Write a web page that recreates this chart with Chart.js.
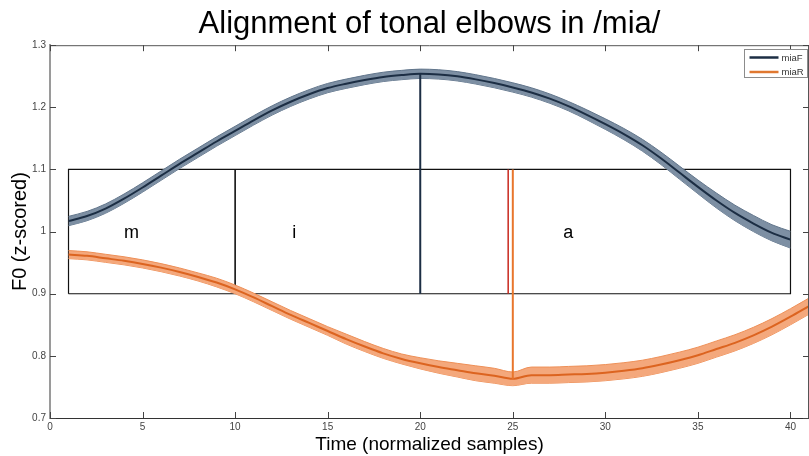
<!DOCTYPE html>
<html>
<head>
<meta charset="utf-8">
<script src="https://cdn.jsdelivr.net/npm/chart.js@4.4.0/dist/chart.umd.min.js"></script>
<style>
  html, body { margin: 0; padding: 0; background: #fff; }
  canvas { display: block; }
</style>
</head>
<body>
<canvas id="chart" width="809" height="456"></canvas>
<script>
// mean F0 curves (z-scored), one value per normalized sample starting at 1
const miaF = [
  1.017, 1.025, 1.037, 1.053, 1.071, 1.090, 1.109, 1.127, 1.145, 1.162,
  1.179, 1.195, 1.209, 1.221, 1.231, 1.238, 1.244, 1.249, 1.252, 1.254,
  1.253, 1.250, 1.245, 1.239, 1.232, 1.224, 1.214, 1.202, 1.188, 1.173,
  1.157, 1.139, 1.118, 1.095, 1.072, 1.050, 1.030, 1.013, 0.998, 0.987,
];
const miaFErr = [
  0.0075, 0.0075, 0.0075, 0.0075, 0.0075, 0.0075, 0.0075, 0.0075, 0.0075, 0.0075,
  0.0075, 0.0075, 0.0075, 0.0075, 0.0075, 0.0075, 0.0075, 0.0075, 0.0075, 0.0075,
  0.0075, 0.0075, 0.0075, 0.0075, 0.0075, 0.0075, 0.0075, 0.0075, 0.008, 0.0085,
  0.009, 0.0095, 0.010, 0.0105, 0.011, 0.012, 0.0125, 0.013, 0.013, 0.0135,
];
const miaR = [
  0.963, 0.961, 0.957, 0.953, 0.948, 0.942, 0.935, 0.927, 0.918, 0.907,
  0.894, 0.880, 0.866, 0.853, 0.840, 0.827, 0.815, 0.804, 0.795, 0.788,
  0.782, 0.777, 0.772, 0.768, 0.763, 0.769, 0.769, 0.770, 0.771, 0.773,
  0.776, 0.780, 0.786, 0.793, 0.801, 0.811, 0.821, 0.833, 0.847, 0.863,
  0.880,
];
const miaRErr = [
  0.0065, 0.0065, 0.0065, 0.0065, 0.0065, 0.0065, 0.0065, 0.0065, 0.007, 0.007,
  0.007, 0.007, 0.007, 0.007, 0.007, 0.008, 0.008, 0.008, 0.008, 0.009,
  0.010, 0.011, 0.012, 0.012, 0.011, 0.013, 0.013, 0.013, 0.013, 0.013,
  0.013, 0.013, 0.013, 0.013, 0.013, 0.013, 0.013, 0.013, 0.013, 0.013,
  0.013,
];

// segment boxes and elbow positions
const regionEdges = [1, 10, 40];
const regionLow = 0.9;
const regionHigh = 1.1;
const regionLabels = ["m", "i", "a"];
const regionLabelX = [4.4, 13.2, 28];
const regionLabelY = 0.997;
const elbowF = 20;
const elbowR = 25;
const elbowRBoundary = 24.75;

const xTickValues = [0, 5, 10, 15, 20, 25, 30, 35, 40];
const yTickValues = [0.7, 0.8, 0.9, 1.0, 1.1, 1.2, 1.3];

const FONT = "'Liberation Sans', Arial, sans-serif";
const NAVY = "#1c2e44";
const ORANGE = "#dc6420";

const toPoints = (ys, errs, sign) =>
  ys.map((v, i) => ({ x: i + 1, y: v + sign * (errs ? errs[i] : 0) }));

const segment = (x0, y0, x1, y1) => [{ x: x0, y: y0 }, { x: x1, y: y1 }];

const lineSet = (data, color, width) => ({
  data,
  borderColor: color,
  borderWidth: width,
  pointRadius: 0,
  fill: false,
  tension: 0,
});

const curveSet = (label, data, color, width, extra) => ({
  label,
  data,
  borderColor: color,
  borderWidth: width,
  pointRadius: 0,
  cubicInterpolationMode: "monotone",
  ...extra,
});

const decorPlugin = {
  id: "decor",
  afterDatasetsDraw(chart) {
    const { ctx, chartArea: area, scales } = chart;
    ctx.save();

    // top and right frame
    ctx.strokeStyle = "#555";
    ctx.lineWidth = 1;
    ctx.beginPath();
    ctx.moveTo(area.left, area.top + 0.5);
    ctx.lineTo(area.right, area.top + 0.5);
    ctx.moveTo(area.right - 0.5, area.top);
    ctx.lineTo(area.right - 0.5, area.bottom);
    ctx.stroke();

    // inward tick marks
    ctx.strokeStyle = "#444";
    ctx.beginPath();
    scales.x.ticks.forEach((t) => {
      const px = Math.round(scales.x.getPixelForValue(t.value)) + 0.5;
      ctx.moveTo(px, area.bottom);
      ctx.lineTo(px, area.bottom - 6);
      ctx.moveTo(px, area.top);
      ctx.lineTo(px, area.top + 6);
    });
    scales.y.ticks.forEach((t) => {
      const py = Math.round(scales.y.getPixelForValue(t.value)) + 0.5;
      ctx.moveTo(area.left, py);
      ctx.lineTo(area.left + 6, py);
      ctx.moveTo(area.right, py);
      ctx.lineTo(area.right - 6, py);
    });
    ctx.stroke();

    // segment labels
    ctx.fillStyle = "#000";
    ctx.font = `18px ${FONT}`;
    ctx.textAlign = "center";
    ctx.textBaseline = "middle";
    regionLabels.forEach((label, i) => {
      ctx.fillText(
        label,
        scales.x.getPixelForValue(regionLabelX[i]),
        scales.y.getPixelForValue(regionLabelY)
      );
    });

    // legend box
    const lx = Math.round(area.right - 65.5) + 0.5;
    const ly = Math.round(area.top + 4) + 0.5;
    ctx.fillStyle = "#fff";
    ctx.fillRect(lx, ly, 63, 28);
    ctx.strokeStyle = "#8c8c8c";
    ctx.strokeRect(lx, ly, 63, 28);
    const entries = [
      { label: "miaF", color: NAVY },
      { label: "miaR", color: "#e07830" },
    ];
    ctx.font = `9.5px ${FONT}`;
    ctx.textAlign = "left";
    entries.forEach((entry, i) => {
      const ry = ly + 8 + i * 14.5;
      ctx.strokeStyle = entry.color;
      ctx.lineWidth = 2.5;
      ctx.beginPath();
      ctx.moveTo(lx + 5, ry);
      ctx.lineTo(lx + 34, ry);
      ctx.stroke();
      ctx.fillStyle = "#333";
      ctx.fillText(entry.label, lx + 37, ry + 0.5);
    });

    ctx.restore();
  },
};

const datasets = [
  // elbow markers
  lineSet(segment(elbowF, regionLow, elbowF, miaF[elbowF - 1]), NAVY, 2),
  lineSet(segment(elbowR, regionHigh, elbowR, miaR[elbowR - 1]), "#e8762c", 2),
  lineSet(segment(elbowRBoundary, regionLow, elbowRBoundary, regionHigh), "#c8281e", 1.5),
  // means
  curveSet("miaF", toPoints(miaF, null, 0), NAVY, 2, { fill: false }),
  curveSet("miaR", toPoints(miaR, null, 0), ORANGE, 2, { fill: false }),
  // error bands
  curveSet("miaF upper", toPoints(miaF, miaFErr, 1), "#61758b", 1, {
    fill: "+1",
    backgroundColor: "#7d8fa3",
  }),
  curveSet("miaF lower", toPoints(miaF, miaFErr, -1), "#61758b", 1, { fill: false }),
  curveSet("miaR upper", toPoints(miaR, miaRErr, 1), "#ee9058", 1, {
    fill: "+1",
    backgroundColor: "#f4a87c",
  }),
  curveSet("miaR lower", toPoints(miaR, miaRErr, -1), "#ee9058", 1, { fill: false }),
  // segment box
  lineSet(
    [
      { x: regionEdges[0], y: regionLow },
      { x: regionEdges[0], y: regionHigh },
      { x: regionEdges[2], y: regionHigh },
      { x: regionEdges[2], y: regionLow },
      { x: regionEdges[0], y: regionLow },
    ],
    "#111",
    1.2
  ),
  lineSet(segment(regionEdges[1], regionLow, regionEdges[1], regionHigh), "#000", 1.5),
];

new Chart(document.getElementById("chart"), {
  type: "line",
  data: { datasets },
  plugins: [decorPlugin],
  options: {
    responsive: false,
    animation: false,
    events: [],
    layout: { padding: 0 },
    plugins: {
      legend: { display: false },
      tooltip: { enabled: false },
      title: {
        display: true,
        text: "Alignment of tonal elbows in /mia/",
        fullSize: false,
        color: "#000",
        font: { family: FONT, size: 31, weight: "normal" },
        padding: { top: 6, bottom: 2 },
      },
    },
    scales: {
      x: {
        type: "linear",
        min: 0,
        max: 41,
        afterBuildTicks: (scale) => {
          scale.ticks = xTickValues.map((value) => ({ value }));
        },
        afterFit: (scale) => {
          scale.height = 38;
        },
        grid: { display: false, drawTicks: false, tickLength: 0 },
        border: { color: "#333", width: 1 },
        ticks: {
          color: "#444",
          padding: 3,
          maxRotation: 0,
          font: { family: FONT, size: 10 },
        },
        title: {
          display: true,
          text: "Time (normalized samples)",
          color: "#000",
          font: { family: FONT, size: 19 },
          padding: { top: 0, bottom: 0 },
        },
      },
      y: {
        type: "linear",
        min: 0.7,
        max: 1.3,
        afterBuildTicks: (scale) => {
          scale.ticks = yTickValues.map((value) => ({ value }));
        },
        afterFit: (scale) => {
          scale.width = 50;
        },
        grid: { display: false, drawTicks: false, tickLength: 0 },
        border: { color: "#9a9a9a", width: 2 },
        ticks: {
          color: "#444",
          padding: 4,
          font: { family: FONT, size: 10 },
          callback: (value) => String(+value.toFixed(1)),
        },
        title: {
          display: true,
          text: "F0 (z-scored)",
          color: "#000",
          font: { family: FONT, size: 20 },
          padding: { top: 8, bottom: 0 },
        },
      },
    },
  },
});
</script>
</body>
</html>
